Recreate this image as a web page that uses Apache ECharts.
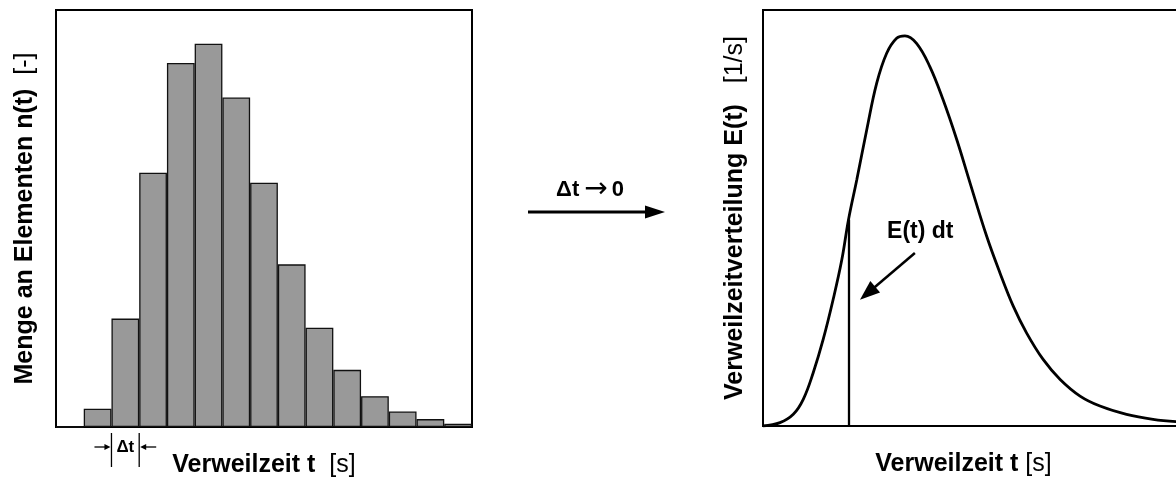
<!DOCTYPE html>
<html>
<head>
<meta charset="utf-8">
<script src="https://cdn.jsdelivr.net/npm/echarts@6/dist/echarts.min.js"></script>
<style>
  html, body { margin: 0; background: #fff; }
  #chart { width: 1176px; height: 477px; }
</style>
</head>
<body>
<div id="chart"></div>
<script>
// Histogramm: Menge an Elementen je Zeitklasse (relativ, max 100)
const binLabels = ['1', '2', '3', '4', '5', '6', '7', '8', '9', '10', '11', '12', '13', '14', '15']
const binCounts = [0, 4.4, 26.0, 61.0, 87.3, 91.9, 79.0, 58.6, 39.0, 23.8, 13.7, 7.4, 3.7, 1.9, 0.8]

// Verweilzeitverteilung E(t) (relativ, t und E in 0..100)
const curveT = [0, 4.1, 7.3, 9.7, 12.1, 14.5, 16.9, 19.0, 20.6, 22.6, 25.0, 27.4, 29.8, 32.2, 34.2, 37.0, 40.2, 43.4, 46.7, 49.9, 53.9, 57.1, 60.3, 63.5, 67.5, 71.6, 76.4, 81.2, 87.6, 94.0, 100]
const curveE = [0, 0.8, 2.8, 6.4, 12.8, 20.8, 30.4, 40.0, 49.6, 59.2, 71.2, 82.4, 89.6, 93.2, 93.8, 92.0, 86.4, 78.4, 68.8, 58.4, 45.6, 36.8, 28.8, 22.4, 16.0, 11.2, 7.2, 4.8, 2.8, 1.6, 1.0]

// markiertes Intervall dt
const dtT = 20.6
const dtE = 49.6

const font = 'Liberation Sans, Arial, Helvetica, sans-serif'
const labelSize = 25

const chart = echarts.init(document.getElementById('chart'))

const hiddenAxisParts = {
  axisTick: { show: false },
  axisLabel: { show: false },
  splitLine: { show: false }
}
const blackLine = { show: true, onZero: false, lineStyle: { color: '#000', width: 2 } }

const richName = {
  fontFamily: font,
  fontSize: labelSize,
  color: '#000',
  rich: {
    b: { fontFamily: font, fontSize: labelSize, fontWeight: 'bold', color: '#000' },
    r: { fontFamily: font, fontSize: labelSize, color: '#000' }
  }
}

chart.setOption({
  animation: false,
  backgroundColor: '#fff',
  grid: [
    { left: 56, right: 704, top: 10, bottom: 50, outerBoundsMode: 'none', show: true, borderColor: '#000', borderWidth: 2 },
    { left: 763, right: -2, top: 10, bottom: 51, outerBoundsMode: 'none', show: true, borderColor: '#000', borderWidth: 2 }
  ],
  xAxis: [{
    type: 'category',
    gridIndex: 0,
    data: binLabels,
    boundaryGap: true,
    axisLine: blackLine,
    ...hiddenAxisParts,
    name: '{b|Verweilzeit t}  {r|[s]}',
    nameLocation: 'middle',
    nameGap: 26,
    nameTextStyle: richName
  }, {
    type: 'value',
    gridIndex: 1,
    min: 0,
    max: 100,
    axisLine: blackLine,
    ...hiddenAxisParts,
    name: '{b|Verweilzeit t} {r|[s]}',
    nameLocation: 'middle',
    nameGap: 26,
    nameTextStyle: { ...richName, padding: [0, 14, 0, 0] }
  }],
  yAxis: [{
    type: 'value',
    gridIndex: 0,
    min: 0,
    max: 100,
    axisLine: blackLine,
    ...hiddenAxisParts,
    name: '{b|Menge an Elementen n(t)}  {r|[-]}',
    nameLocation: 'middle',
    nameGap: 18,
    nameTextStyle: richName
  }, {
    type: 'value',
    gridIndex: 1,
    min: 0,
    max: 100,
    axisLine: blackLine,
    ...hiddenAxisParts,
    name: '{b|Verweilzeitverteilung E(t)}   {r|[1/s]}',
    nameLocation: 'middle',
    nameGap: 15,
    nameTextStyle: richName
  }],
  series: [{
    type: 'bar',
    xAxisIndex: 0,
    yAxisIndex: 0,
    data: binCounts,
    barCategoryGap: '0%',
    itemStyle: { color: '#999999', borderColor: '#111', borderWidth: 1.3 }
  }, {
    type: 'line',
    xAxisIndex: 1,
    yAxisIndex: 1,
    data: curveT.map((t, i) => [t, curveE[i]]),
    smooth: 0.4,
    symbol: 'none',
    lineStyle: { color: '#000', width: 2.8 },
    markLine: {
      silent: true,
      animation: false,
      label: { show: false },
      data: [
        [
          { coord: [dtT, 0], symbol: 'none', lineStyle: { color: '#000', width: 2.3, type: 'solid' } },
          { coord: [dtT, dtE], symbol: 'none' }
        ],
        [
          { coord: [36.6, 41.6], symbol: 'none', lineStyle: { color: '#000', width: 2.5, type: 'solid' } },
          { coord: [25.2, 31.9], symbol: 'triangle', symbolSize: [15, 20] }
        ]
      ]
    },
    markPoint: {
      silent: true,
      animation: false,
      data: [{
        coord: [37.9, 46.6],
        symbol: 'circle',
        symbolSize: 1,
        itemStyle: { color: 'transparent' },
        label: {
          show: true,
          position: 'inside',
          formatter: 'E(t) dt',
          fontFamily: font,
          fontSize: 23,
          fontWeight: 'bold',
          color: '#000'
        }
      }]
    }
  }]
})

// Δt-Markierung unter der dritten Klasse und Pfeil "Δt → 0"
const c0 = chart.convertToPixel({ xAxisIndex: 0 }, binLabels[2])
const c1 = chart.convertToPixel({ xAxisIndex: 0 }, binLabels[3])
const bw = c1 - c0
const xa = c0 - bw / 2
const xb = c0 + bw / 2
const y0 = chart.convertToPixel({ yAxisIndex: 0 }, 0)
const ya = y0 + 20
const stroke = { stroke: '#000', lineWidth: 1.3 }

chart.setOption({
  graphic: [
    { type: 'line', shape: { x1: xa, y1: y0 + 6, x2: xa, y2: y0 + 40 }, style: stroke },
    { type: 'line', shape: { x1: xb, y1: y0 + 6, x2: xb, y2: y0 + 40 }, style: stroke },
    { type: 'line', shape: { x1: xa - 17, y1: ya, x2: xa - 5, y2: ya }, style: stroke },
    { type: 'polygon', shape: { points: [[xa - 7, ya - 3], [xa - 1, ya], [xa - 7, ya + 3]] }, style: { fill: '#000' } },
    { type: 'line', shape: { x1: xb + 17, y1: ya, x2: xb + 5, y2: ya }, style: stroke },
    { type: 'polygon', shape: { points: [[xb + 7, ya - 3], [xb + 1, ya], [xb + 7, ya + 3]] }, style: { fill: '#000' } },
    {
      type: 'text',
      x: (xa + xb) / 2,
      y: ya,
      style: { text: 'Δt', fontFamily: font, fontSize: 17, fontWeight: 'bold', fill: '#000', align: 'center', verticalAlign: 'middle' }
    },
    { type: 'line', shape: { x1: 528, y1: 212, x2: 648, y2: 212 }, style: { stroke: '#000', lineWidth: 3 } },
    { type: 'polygon', shape: { points: [[645, 205.5], [665, 212], [645, 218.5]] }, style: { fill: '#000' } },
    {
      type: 'text',
      x: 590,
      y: 190,
      style: {
        text: '{a|Δt}{s|→}{a|0}',
        align: 'center',
        verticalAlign: 'middle',
        rich: {
          a: { fontFamily: font, fontSize: 22, fontWeight: 'bold', fill: '#000' },
          s: { fontFamily: 'DejaVu Sans', fontSize: 28, fill: '#000', padding: [0, 4, 0, 5] }
        }
      }
    }
  ]
})
</script>
</body>
</html>
